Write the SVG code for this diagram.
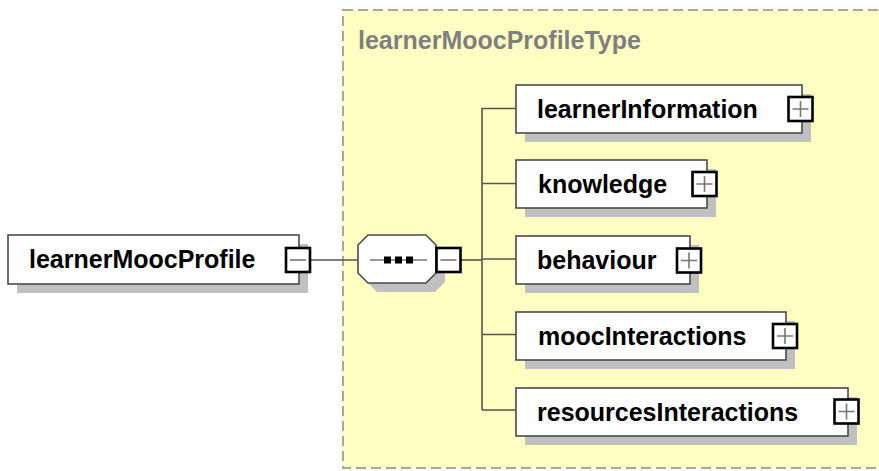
<svg xmlns="http://www.w3.org/2000/svg" width="879" height="471" viewBox="0 0 879 471">
  <style>
    .bg { fill: #ffffff; }
    .type { fill: #ffffc4; stroke: #a8a898; stroke-width: 2; stroke-dasharray: 10 5; }
    .type-title { font-family: "Liberation Sans", Arial, sans-serif; font-weight: bold; font-size: 25px; fill: #7f7f7f; }
    .shadow { fill: #c0c0c0; }
    .box { fill: #ffffff; stroke: #4a4a4a; stroke-width: 1.6; }
    .label { font-family: "Liberation Sans", Arial, sans-serif; font-weight: bold; font-size: 25px; fill: #000000; }
    .toggle { fill: #ffffff; stroke: #000000; stroke-width: 2.6; }
    .glyph { stroke: #777777; stroke-width: 1.6; fill: none; }
    .wire { stroke: #555548; stroke-width: 1.6; fill: none; }
    .dot { fill: #000000; }
  </style>

  <rect class="bg" x="0" y="0" width="879" height="471"/>

  <!-- complex type area -->
  <g id="learnerMoocProfileType">
    <rect class="type" x="343" y="10" width="600" height="458"/>
    <text class="type-title" x="358" y="49">learnerMoocProfileType</text>
  </g>

  <!-- connectors -->
  <g id="connectors">
    <line class="wire" x1="310" y1="260" x2="358" y2="260"/>
    <line class="wire" x1="461" y1="260" x2="482" y2="260"/>
    <line class="wire" x1="482" y1="108" x2="482" y2="410"/>
    <line class="wire" x1="482" y1="108.5" x2="516" y2="108.5"/>
    <line class="wire" x1="482" y1="183.5" x2="516" y2="183.5"/>
    <line class="wire" x1="482" y1="259" x2="516" y2="259"/>
    <line class="wire" x1="482" y1="334.5" x2="516" y2="334.5"/>
    <line class="wire" x1="482" y1="410" x2="516" y2="410"/>
  </g>

  <!-- root element -->
  <g id="learnerMoocProfile">
    <rect class="shadow" x="17" y="244" width="291" height="49"/>
    <rect class="box" x="8" y="235" width="291" height="49"/>
    <text class="label" x="29" y="268">learnerMoocProfile</text>
    <rect class="toggle" x="286" y="248" width="24" height="24"/>
    <line class="glyph" x1="290" y1="260" x2="306" y2="260"/>
  </g>

  <!-- sequence compositor -->
  <g id="sequence">
    <path class="shadow" d="M377,244 H435 L445,254 V282 L435,292 H377 L367,282 V254 Z"/>
    <path class="box" d="M368,235 H426 L436,245 V273 L426,283 H368 L358,273 V245 Z"/>
    <line class="glyph" x1="370" y1="260" x2="427" y2="260"/>
    <rect class="dot" x="384" y="256.5" width="7" height="7"/>
    <rect class="dot" x="395" y="256.5" width="7" height="7"/>
    <rect class="dot" x="406" y="256.5" width="7" height="7"/>
    <rect class="toggle" x="436.5" y="248" width="24" height="24"/>
    <line class="glyph" x1="440.5" y1="260" x2="456.5" y2="260"/>
  </g>

  <g id="learnerInformation">
    <rect class="shadow" x="525" y="94" width="286" height="48"/>
    <rect class="box" x="516" y="85" width="286" height="48"/>
    <text class="label" x="537" y="117.5">learnerInformation</text>
    <rect class="toggle" x="788.5" y="97" width="24" height="24"/>
    <path class="glyph" d="M792.5,109 H808.5 M800.5,101 V117"/>
  </g>

  <g id="knowledge">
    <rect class="shadow" x="525" y="169" width="191" height="48"/>
    <rect class="box" x="516" y="160" width="191" height="48"/>
    <text class="label" x="538" y="192.5">knowledge</text>
    <rect class="toggle" x="692.5" y="172" width="24" height="24"/>
    <path class="glyph" d="M696.5,184 H712.5 M704.5,176 V192"/>
  </g>

  <g id="behaviour">
    <rect class="shadow" x="525" y="245" width="174" height="48"/>
    <rect class="box" x="516" y="236" width="174" height="48"/>
    <text class="label" x="537" y="268.5">behaviour</text>
    <rect class="toggle" x="677" y="248.5" width="24" height="24"/>
    <path class="glyph" d="M681,260.5 H697 M689,252.5 V268.5"/>
  </g>

  <g id="moocInteractions">
    <rect class="shadow" x="525" y="321" width="270" height="48"/>
    <rect class="box" x="516" y="312" width="270" height="48"/>
    <text class="label" x="538" y="344.5">moocInteractions</text>
    <rect class="toggle" x="773" y="324" width="24" height="24"/>
    <path class="glyph" d="M777,336 H793 M785,328 V344"/>
  </g>

  <g id="resourcesInteractions">
    <rect class="shadow" x="525" y="397" width="332" height="48"/>
    <rect class="box" x="516" y="388" width="332" height="48"/>
    <text class="label" x="537" y="420.5">resourcesInteractions</text>
    <rect class="toggle" x="834.5" y="399.5" width="24" height="24"/>
    <path class="glyph" d="M838.5,411.5 H854.5 M846.5,403.5 V419.5"/>
  </g>
</svg>
